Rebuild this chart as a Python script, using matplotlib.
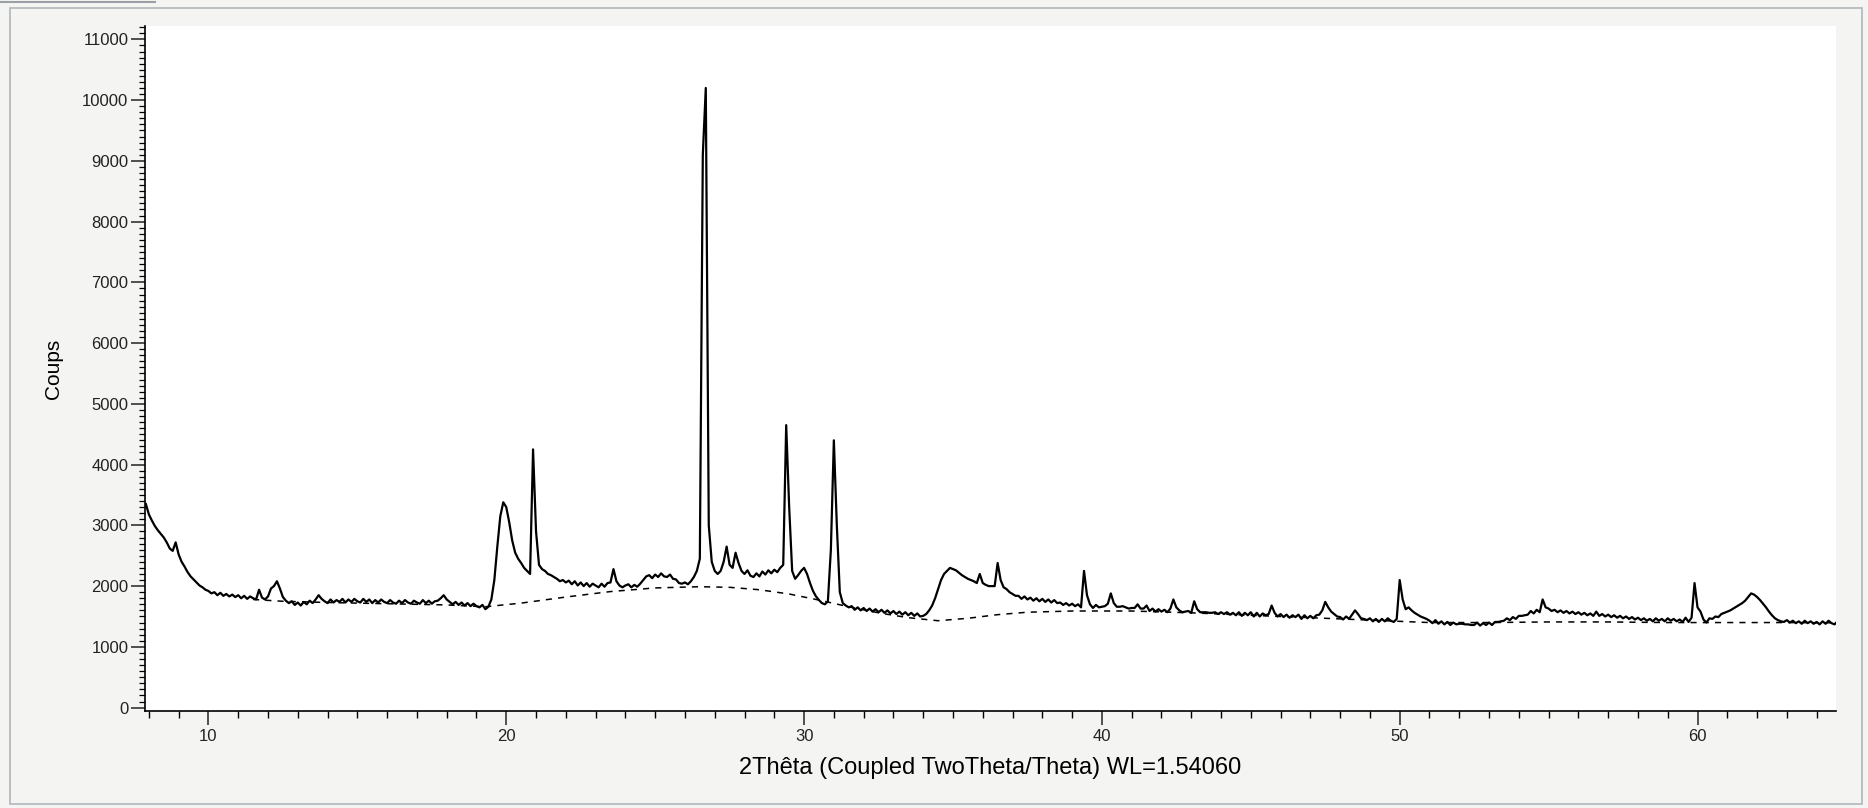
import numpy as np
import matplotlib
matplotlib.use('Agg')
import matplotlib.pyplot as plt
from matplotlib.ticker import MultipleLocator
from matplotlib.patches import Rectangle

plt.rcParams['font.family'] = ['Liberation Sans', 'DejaVu Sans']

# diffractogram, one value every 0.1 deg starting at 7.9
theta_start = 7.9
theta_step = 0.1

counts_start = [3350]

counts_08_17 = [
    3180, 3080, 2990, 2920, 2860, 2800, 2720, 2620, 2580, 2720,  # 8
    2520, 2400, 2320, 2230, 2160, 2110, 2060, 2010, 1980, 1940,  # 9
    1920, 1880, 1900, 1850, 1890, 1840, 1870, 1830, 1860, 1820,  # 10
    1850, 1800, 1840, 1790, 1830, 1800, 1780, 1940, 1810, 1780,  # 11
    1830, 1960, 2000, 2080, 1960, 1820, 1760, 1720, 1750, 1690,  # 12
    1730, 1680, 1740, 1700, 1760, 1720, 1780, 1850, 1790, 1750,  # 13
    1720, 1780, 1730, 1770, 1740, 1790, 1730, 1780, 1740, 1790,  # 14
    1750, 1730, 1790, 1740, 1780, 1720, 1770, 1730, 1780, 1740,  # 15
    1720, 1770, 1730, 1710, 1760, 1720, 1770, 1730, 1710, 1760,  # 16
    1730, 1710, 1770, 1720, 1760, 1710, 1750, 1760, 1800, 1850,  # 17
]

counts_18_27 = [
    1780, 1740, 1700, 1740, 1690, 1730, 1680, 1720, 1670, 1710,  # 18
    1670, 1650, 1690, 1620, 1660, 1780, 2100, 2650, 3150, 3380,  # 19
    3300, 3050, 2750, 2550, 2450, 2380, 2300, 2250, 2200, 4250,  # 20
    2900, 2350, 2280, 2250, 2200, 2180, 2150, 2120, 2080, 2100,  # 21
    2060, 2090, 2030, 2080, 2010, 2060, 2000, 2050, 1990, 2040,  # 22
    2010, 1980, 2040, 1990, 2050, 2060, 2280, 2080, 2010, 1980,  # 23
    2010, 2030, 1980, 2020, 1990, 2040, 2100, 2160, 2180, 2130,  # 24
    2190, 2150, 2210, 2160, 2150, 2190, 2120, 2110, 2050, 2040,  # 25
    2060, 2030, 2080, 2150, 2250, 2450, 9100, 10200, 3000, 2400,  # 26
    2250, 2200, 2250, 2400, 2650, 2350, 2300, 2550, 2380, 2250,  # 27
]

counts_28_37 = [
    2200, 2260, 2170, 2150, 2210, 2160, 2240, 2190, 2260, 2210,  # 28
    2270, 2230, 2300, 2350, 4650, 3300, 2250, 2120, 2180, 2250,  # 29
    2300, 2200, 2050, 1920, 1830, 1770, 1720, 1700, 1750, 2600,  # 30
    4400, 3000, 1900, 1720, 1680, 1650, 1670, 1610, 1650, 1600,  # 31
    1640, 1590, 1630, 1580, 1620, 1570, 1610, 1560, 1600, 1550,  # 32
    1590, 1540, 1580, 1530, 1570, 1520, 1560, 1510, 1550, 1500,  # 33
    1510, 1540, 1600, 1680, 1800, 1950, 2100, 2200, 2250, 2300,  # 34
    2280, 2260, 2220, 2180, 2150, 2120, 2100, 2080, 2050, 2200,  # 35
    2050, 2020, 2000, 2000, 2000, 2380, 2100, 1980, 1950, 1900,  # 36
    1870, 1840, 1840, 1790, 1830, 1780, 1810, 1760, 1800, 1750,  # 37
]

counts_38_47 = [
    1790, 1740, 1780, 1730, 1770, 1720, 1730, 1690, 1720, 1680,  # 38
    1710, 1670, 1700, 1650, 2250, 1850, 1700, 1640, 1690, 1650,  # 39
    1660, 1670, 1710, 1880, 1720, 1660, 1660, 1670, 1650, 1630,  # 40
    1640, 1640, 1700, 1630, 1630, 1680, 1590, 1630, 1580, 1620,  # 41
    1580, 1610, 1570, 1630, 1780, 1650, 1600, 1570, 1580, 1590,  # 42
    1560, 1750, 1620, 1570, 1570, 1570, 1560, 1560, 1570, 1540,  # 43
    1570, 1540, 1570, 1530, 1560, 1520, 1570, 1510, 1560, 1520,  # 44
    1570, 1500, 1560, 1500, 1550, 1520, 1540, 1680, 1560, 1500,  # 45
    1540, 1490, 1530, 1480, 1520, 1490, 1530, 1460, 1520, 1470,  # 46
    1510, 1470, 1520, 1530, 1600, 1740, 1650, 1580, 1540, 1500,  # 47
]

counts_48_57 = [
    1490, 1450, 1500, 1460, 1530, 1600, 1540, 1470, 1460, 1440,  # 48
    1470, 1420, 1460, 1410, 1460, 1420, 1470, 1430, 1410, 1460,  # 49
    2100, 1780, 1620, 1650, 1600, 1560, 1530, 1500, 1480, 1460,  # 50
    1430, 1390, 1440, 1380, 1420, 1370, 1410, 1360, 1400, 1370,  # 51
    1380, 1380, 1370, 1370, 1360, 1360, 1400, 1350, 1390, 1360,  # 52
    1400, 1360, 1410, 1410, 1420, 1430, 1470, 1440, 1490, 1460,  # 53
    1510, 1510, 1520, 1530, 1590, 1550, 1610, 1570, 1780, 1650,  # 54
    1630, 1590, 1610, 1570, 1600, 1560, 1590, 1550, 1580, 1540,  # 55
    1570, 1530, 1560, 1520, 1550, 1510, 1580, 1510, 1540, 1500,  # 56
    1530, 1490, 1520, 1480, 1510, 1470, 1500, 1460, 1490, 1450,  # 57
]

counts_58_64 = [
    1480, 1440, 1470, 1430, 1460, 1420, 1470, 1430, 1460, 1420,  # 58
    1470, 1430, 1460, 1420, 1450, 1410, 1480, 1410, 1480, 2050,  # 59
    1650, 1580, 1450, 1400, 1470, 1460, 1500, 1490, 1540, 1560,  # 60
    1580, 1600, 1630, 1660, 1690, 1720, 1760, 1820, 1880, 1860,  # 61
    1820, 1770, 1710, 1650, 1580, 1520, 1470, 1440, 1420, 1410,  # 62
    1440, 1400, 1430, 1390, 1420, 1380, 1430, 1390, 1420, 1380,  # 63
    1410, 1370, 1420, 1380, 1430, 1390, 1370, 1420, 1380, 1410,  # 64
]

# fitted background (dashed)
bg_theta = [11.5, 12.5, 14, 16, 18, 19.3, 20.5, 22, 23.5, 25, 26.5, 27.5, 28.5, 29.5,
            30.5, 31.5, 32.5, 33.5, 34.5, 35.5, 36.5, 37.5, 39, 41, 43, 45, 47, 49,
            51, 53, 55, 57, 59, 61, 63, 64.8]
bg_counts = [1780, 1750, 1730, 1710, 1690, 1660, 1720, 1820, 1910, 1970, 1990, 1980,
             1940, 1870, 1770, 1660, 1560, 1480, 1430, 1470, 1530, 1570, 1590, 1590,
             1560, 1520, 1480, 1440, 1400, 1400, 1410, 1410, 1400, 1400, 1400, 1395]

counts = np.array(counts_start + counts_08_17 + counts_18_27 + counts_28_37
                  + counts_38_47 + counts_48_57 + counts_58_64)
two_theta = np.round(theta_start + theta_step * np.arange(len(counts)), 2)

W, H = 1868, 808
fig = plt.figure(figsize=(W / 100, H / 100), dpi=100, facecolor='#f4f4f2')
ax = fig.add_axes([145 / W, 1 - 711 / H, (1836 - 145) / W, (711 - 26) / H])
ax.set_facecolor('white')

ax.plot(bg_theta, bg_counts, color='black', lw=1.1, ls=(0, (4, 4)), zorder=2)
ax.plot(two_theta, counts, color='black', lw=1.6, zorder=3)

ax.set_xlim(7.87, 64.65)
ax.set_ylim(-56, 11220)

ax.xaxis.set_major_locator(MultipleLocator(10))
ax.xaxis.set_minor_locator(MultipleLocator(1))
ax.yaxis.set_major_locator(MultipleLocator(1000))
ax.yaxis.set_minor_locator(MultipleLocator(100))

for s in ['top', 'right']:
    ax.spines[s].set_visible(False)
for s in ['left', 'bottom']:
    ax.spines[s].set_linewidth(1.2)

ax.tick_params(axis='both', which='major', direction='out', width=1.1, labelsize=12, colors='#222222')
ax.tick_params(axis='x', which='major', length=10, pad=3)
ax.tick_params(axis='x', which='minor', length=5, width=1.0)
ax.tick_params(axis='y', which='major', length=10, pad=2)
ax.tick_params(axis='y', which='minor', length=4, width=0.9)

ax.set_ylabel('Coups', fontsize=15, labelpad=14)
ax.set_xlabel('2Thêta (Coupled TwoTheta/Theta) WL=1.54060', fontsize=17, labelpad=9)

# window frame
fig.patches.append(Rectangle((10 / W, 4 / H), (1862 - 10) / W, (800 - 4) / H,
                             transform=fig.transFigure, fill=False,
                             edgecolor='#b0b6bc', lw=1.2))
fig.add_artist(plt.Line2D([0, 155 / W], [1 - 2 / H, 1 - 2 / H],
                          transform=fig.transFigure, color='#9aa0a6', lw=1.5))

fig.savefig('out.png', dpi=100, facecolor=fig.get_facecolor())
